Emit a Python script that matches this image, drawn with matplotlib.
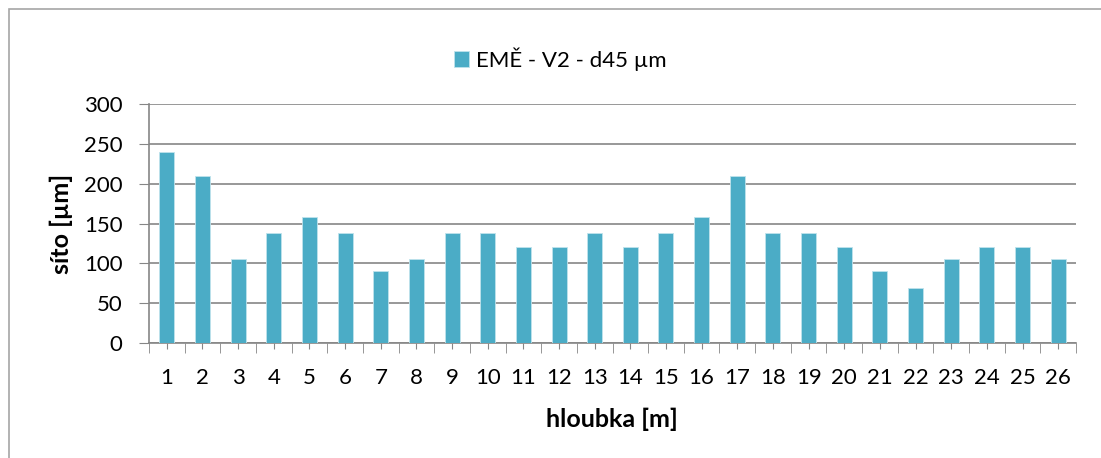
import numpy as np
import matplotlib.pyplot as plt
from matplotlib.patches import Rectangle

plt.rcParams['font.family'] = ['Lato', 'DejaVu Sans']

# hloubka [m] a síto [µm]
hloubka = list(range(1, 27))
sito = [240, 209, 105, 138, 158, 138, 91, 105, 138, 138, 120, 120, 138,
        120, 138, 158, 209, 138, 138, 120, 91, 69, 105, 120, 120, 105]
serie = 'EMĚ - V2 - d45 µm'
barva = '#4BACC6'
seda = '#868686'

W, H = 1101, 458
fig = plt.figure(figsize=(W / 100, H / 100), dpi=100)
ax = fig.add_axes([149 / W, 1 - 343 / H, (1076 - 149) / W, (343 - 104) / H])

# rámeček grafu
fig.patches.append(Rectangle((9 / W, -0.01), 1.1, 1 - 9 / H + 0.01,
                             transform=fig.transFigure, fill=False,
                             edgecolor='#A6A6A6', linewidth=1.2))

x = np.arange(len(hloubka))
bars = ax.bar(x, sito, width=0.42, color=barva, edgecolor='#BFE3EC',
              linewidth=0.6, zorder=3, label=serie)

ax.set_xlim(-0.5, len(hloubka) - 0.5)
ax.set_ylim(0, 300)
ax.set_yticks(range(0, 301, 50))
ax.yaxis.grid(True, color=seda, linewidth=1.2, zorder=0)

ax.set_xticks(x)
ax.set_xticklabels([str(h) for h in hloubka], fontsize=16)
ax.set_xticks(np.arange(-0.5, len(hloubka)), minor=True)
ax.tick_params(axis='x', which='major', length=4, color=seda, pad=14)
ax.tick_params(axis='x', which='minor', length=7, color=seda)
ax.tick_params(axis='y', length=7, color=seda, labelsize=16, pad=12)

for s in ['top', 'right']:
    ax.spines[s].set_visible(False)
for s in ['left', 'bottom']:
    ax.spines[s].set_color(seda)
    ax.spines[s].set_linewidth(1.2)

fig.text(612 / W, 1 - 419 / H, 'hloubka [m]', fontsize=18, fontweight='bold',
         ha='center', va='center')
fig.text(61 / W, 1 - 224 / H, 'síto [µm]', fontsize=18, fontweight='bold',
         ha='center', va='center', rotation=90)

fig.legend(handles=[bars], labels=[serie], loc='center',
           bbox_to_anchor=(560 / W, 1 - 59 / H), frameon=False,
           fontsize=16, handlelength=0.7, handleheight=0.7, handletextpad=0.3)

fig.savefig('out.png', dpi=100)
